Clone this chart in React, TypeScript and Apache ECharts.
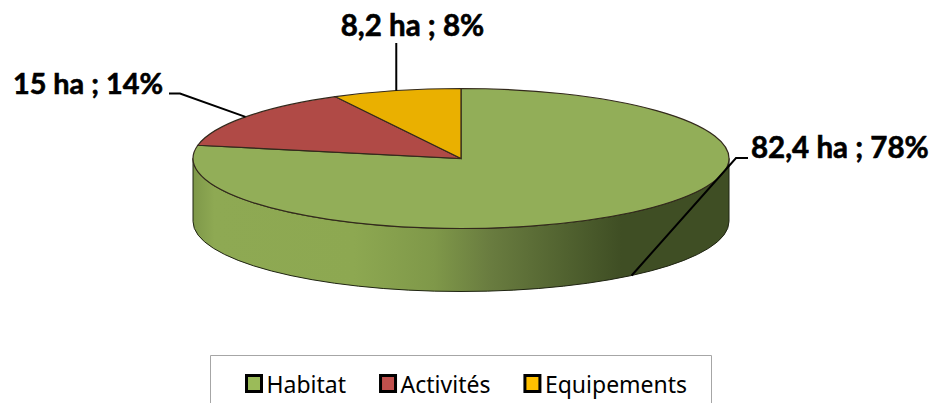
import React, { useEffect, useRef } from "react";
import * as echarts from "echarts";

const categories = ["Habitat", "Activités", "Equipements"];
const hectares = [82.4, 15, 8.2];
const percents = [78, 14, 8];
const topColors = ["#92ae58", "#b04a46", "#eab000"];
const legendColors = ["#9bbb59", "#c0504d", "#ffc000"];

const CX = 461;
const CY = 158.5;
const RX = 268;
const RY = 70;
const DEPTH = 63;
const EDGE = "#33291c";

const total = hectares.reduce((a, b) => a + b, 0);
const pt = (deg: number, dy = 0) => {
  const r = (deg * Math.PI) / 180;
  return [CX + RX * Math.sin(r), CY - RY * Math.cos(r) + dy];
};
const labelFor = (i: number) =>
  `${String(hectares[i]).replace(".", ",")} ha ; ${percents[i]}%`;

const labelLayouts = [
  { x: 751, y: 146, align: "left", size: 29.5, line: (a: number[]) => [[a[0], a[1] + DEPTH], [736, 158], [748, 158]] },
  { x: 163, y: 83, align: "right", size: 28.8, line: (a: number[]) => [a, [180, 93.5], [169, 93.5]] },
  { x: 412.5, y: 24, align: "center", size: 29.5, line: (a: number[]) => [a, [a[0], 43]] },
];

function renderSlice(i: number) {
  return (_params: any, api: any) => {
    const value = api.value(0);
    let before = 0;
    for (let k = 0; k < i; k++) before += hectares[k];
    const a0 = (before / total) * 360;
    const a1 = ((before + value) / total) * 360;
    const p0 = pt(a0);
    const p1 = pt(a1);
    const large = a1 - a0 > 180 ? 1 : 0;
    const children: any[] = [];
    if (i === 0) {
      const l = [CX - RX, CY];
      const r = [CX + RX, CY];
      children.push({
        type: "path",
        shape: {
          pathData: `M ${l[0]} ${l[1]} A ${RX} ${RY} 0 0 0 ${r[0]} ${r[1]} L ${r[0]} ${r[1] + DEPTH} A ${RX} ${RY} 0 0 1 ${l[0]} ${l[1] + DEPTH} Z`,
        },
        style: {
          fill: new echarts.graphic.LinearGradient(0, 0, 1, 0, [
            { offset: 0, color: "#7e9849" },
            { offset: 0.04, color: "#8ea953" },
            { offset: 0.3, color: "#8da851" },
            { offset: 0.45, color: "#7f9849" },
            { offset: 0.55, color: "#6a7d40" },
            { offset: 0.7, color: "#50612f" },
            { offset: 0.8, color: "#3f4e24" },
            { offset: 1, color: "#3f4e24" },
          ]),
          stroke: "#1f2412",
          lineWidth: 1,
        },
      });
    }
    children.push({
      type: "path",
      shape: {
        pathData: `M ${CX} ${CY} L ${p0[0]} ${p0[1]} A ${RX} ${RY} 0 ${large} 1 ${p1[0]} ${p1[1]} Z`,
      },
      style: { fill: topColors[i], stroke: EDGE, lineWidth: 1.2 },
    });
    const layout = labelLayouts[i];
    const anchor = pt((a0 + a1) / 2);
    children.push({
      type: "polyline",
      shape: { points: layout.line(anchor) },
      style: { fill: "none", stroke: "#000", lineWidth: 2 },
    });
    children.push({
      type: "text",
      style: {
        text: labelFor(i),
        x: layout.x,
        y: layout.y,
        textAlign: layout.align,
        textVerticalAlign: "middle",
        fontFamily: "Lato",
        fontWeight: "bold",
        fontSize: layout.size,
        fill: "#000",
        stroke: "#000",
        lineWidth: 0.6,
      },
    });
    return { type: "group", children };
  };
}

export default function App() {
  const ref = useRef<HTMLDivElement>(null);
  useEffect(() => {
    document.body.style.margin = "0";
    document.body.style.overflow = "hidden";
    const chart = echarts.init(ref.current!, undefined, { renderer: "svg" });
    chart.setOption({
      animation: false,
      backgroundColor: "#fff",
      graphic: [
        {
          type: "rect",
          shape: { x: 210.5, y: 355.5, width: 501, height: 60 },
          style: { fill: "#fff", stroke: "#a6a6a6", lineWidth: 1 },
          z: -1,
        },
      ],
      legend: {
        left: 245,
        top: 372,
        padding: 0,
        itemWidth: 15,
        itemHeight: 16,
        itemGap: 33,
        selectedMode: false,
        icon: "rect",
        textStyle: { fontFamily: "Noto Sans", fontSize: 23, color: "#000", padding: [0, 0, 0, 0] },
        data: categories.map((name, i) => ({
          name,
          itemStyle: { color: legendColors[i], borderColor: "#000", borderWidth: 3 },
        })),
      },
      series: categories.map((name, i) => ({
        type: "custom",
        name,
        coordinateSystem: "none",
        silent: true,
        itemStyle: { color: legendColors[i] },
        data: [hectares[i]],
        renderItem: renderSlice(i),
      })),
    });
    return () => chart.dispose();
  }, []);
  return <div ref={ref} style={{ width: 931, height: 403, position: "absolute", left: 0, top: 0 }} />;
}
